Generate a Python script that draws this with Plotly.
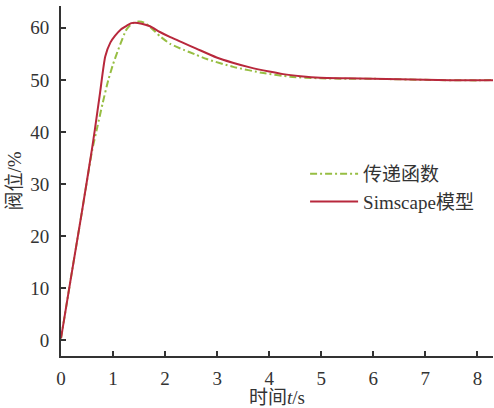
import plotly.graph_objects as go

# Simscape model (red solid)
t_sim = [0, 0.2, 0.4, 0.6, 0.65, 0.75, 0.85, 0.95, 1.04, 1.15, 1.26, 1.35, 1.42, 1.55, 1.71, 1.9, 2.1, 2.35, 2.6, 2.99, 3.3, 3.63, 4.0, 4.27, 4.6, 4.98, 5.5, 6.0, 7.0, 8.0, 8.3]
v_sim = [0.3, 12.5, 24.5, 37.0, 40.4, 47.5, 54.5, 57.2, 58.5, 59.7, 60.4, 60.9, 61.0, 60.8, 60.3, 59.2, 58.2, 57.1, 56.0, 54.3, 53.3, 52.4, 51.6, 51.1, 50.7, 50.4, 50.3, 50.2, 50.0, 49.9, 49.9]

# Transfer function (green dash-dot)
t_tf = [0, 0.2, 0.4, 0.6, 0.7, 0.8, 0.91, 1.0, 1.1, 1.26, 1.38, 1.49, 1.6, 1.71, 1.9, 2.1, 2.35, 2.6, 2.8, 3.31, 3.89, 4.4, 4.98, 5.5, 6.0, 7.0, 8.0, 8.3]
v_tf = [0.3, 12.5, 24.5, 36.5, 41.0, 45.5, 50.0, 53.0, 55.8, 59.7, 60.9, 61.2, 61.0, 60.2, 58.4, 56.9, 55.8, 54.8, 54.0, 52.5, 51.3, 50.6, 50.3, 50.2, 50.2, 50.0, 49.9, 50.0]

x_ticks = [0, 1, 2, 3, 4, 5, 6, 7, 8]
y_ticks = [0, 10, 20, 30, 40, 50, 60]

FONT = "Liberation Serif, Times New Roman, Noto Sans CJK SC, serif"

fig = go.Figure()
fig.add_trace(go.Scatter(x=t_tf, y=v_tf, mode="lines", name="传递函数",
                         line=dict(color="#97BE43", width=2, dash="7px,3px,2px,3px", shape="spline", smoothing=0.6)))
fig.add_trace(go.Scatter(x=t_sim, y=v_sim, mode="lines", name="Simscape模型",
                         line=dict(color="#B8283C", width=2, shape="spline", smoothing=0.6)))

axis_common = dict(showline=True, linecolor="#333333", linewidth=2, ticks="inside", ticklen=5,
                   tickwidth=1.5, tickcolor="#333333", showgrid=False, zeroline=False,
                   automargin=False,
                   tickfont=dict(family=FONT, size=19, color="#333333"))

fig.update_layout(
    width=494, height=408,
    margin=dict(l=61, r=1, t=6, b=52),
    paper_bgcolor="white", plot_bgcolor="white",
    font=dict(family=FONT, size=19, color="#333333"),
    xaxis=dict(range=[0, 8.3], tickvals=x_ticks, ticklabelstandoff=4,
               title=dict(text="时间<i>t</i>/s", font=dict(family=FONT, size=19), standoff=2),
               **axis_common),
    yaxis=dict(range=[-3.1, 64.2], tickvals=y_ticks, ticklabelstandoff=6,
               title=dict(text="阀位/%", font=dict(family=FONT, size=19), standoff=4),
               **axis_common),
    legend=dict(x=0.565, xanchor="left", y=0.48, yanchor="middle", bgcolor="rgba(0,0,0,0)",
                font=dict(family=FONT, size=19, color="#333333"), itemwidth=48,
                tracegroupgap=0),
    showlegend=True,
)

fig.write_html("out.html", config={"displayModeBar": False},
               post_script="document.body.style.margin='0';document.body.style.overflow='hidden';")
